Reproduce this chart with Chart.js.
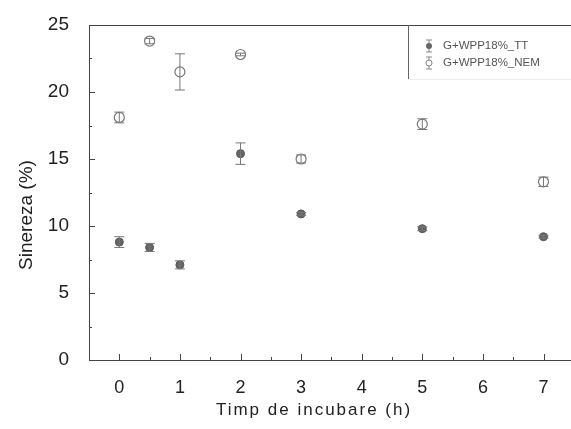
<!DOCTYPE html>
<html>
<head>
<meta charset="utf-8">
<script src="https://cdn.jsdelivr.net/npm/chart.js@4.4.1/dist/chart.umd.min.js"></script>
<style>
	html, body { margin: 0; padding: 0; background: #fff; overflow: hidden; }
	#wrap { width: 580px; height: 429px; }
</style>
</head>
<body>
<div id="wrap"><canvas id="c" width="580" height="429"></canvas></div>
<script>
// time points (h)
const hours = [0, 0.5, 1, 2, 3, 5, 7]
// G+WPP18%_TT
const ttValues = [8.8, 8.4, 7.1, 15.4, 10.9, 9.8, 9.2]
const ttErrors = [0.4, 0.3, 0.3, 0.8, 0.1, 0.15, 0.1]
// G+WPP18%_NEM
const nemValues = [18.1, 23.8, 21.5, 22.8, 15.0, 17.6, 13.3]
const nemErrors = [0.4, 0.2, 1.35, 0.1, 0.3, 0.4, 0.35]
const xTicks = [0, 1, 2, 3, 4, 5, 6, 7]
const yTicks = [0, 5, 10, 15, 20, 25]

const axisColor = '#444'
const font = 'Liberation Sans, Arial, sans-serif'

const errorBars = {
	id: 'errorBars',
	afterDatasetsDraw(chart) {
		const ctx = chart.ctx
		const x = chart.scales.x, y = chart.scales.y
		chart.data.datasets.forEach(ds => {
			ctx.save()
			ctx.strokeStyle = '#777'
			ctx.lineWidth = 1
			ds.data.forEach((p, i) => {
				let e = ds.errors[i]
				let px = x.getPixelForValue(p.x)
				let top = y.getPixelForValue(p.y + e)
				let bot = y.getPixelForValue(p.y - e)
				ctx.beginPath()
				ctx.moveTo(px, top); ctx.lineTo(px, bot)
				ctx.moveTo(px - 5, top); ctx.lineTo(px + 5, top)
				ctx.moveTo(px - 5, bot); ctx.lineTo(px + 5, bot)
				ctx.stroke()
			})
			ctx.restore()
		})
	}
}

const frame = {
	id: 'frame',
	afterDraw(chart) {
		const ctx = chart.ctx
		const a = chart.chartArea
		const x = chart.scales.x, y = chart.scales.y
		ctx.save()
		ctx.strokeStyle = axisColor
		ctx.lineWidth = 1
		// top border up to the legend box
		ctx.beginPath()
		ctx.moveTo(a.left, a.top + 0.5); ctx.lineTo(a.right, a.top + 0.5)
		ctx.stroke()
		// tick marks, pointing inwards
		ctx.beginPath()
		for (let v = 0; v <= 7.01; v += 0.5) {
			let px = Math.round(x.getPixelForValue(v)) + 0.5
			let len = v % 1 === 0 ? 6 : 3
			ctx.moveTo(px, a.bottom); ctx.lineTo(px, a.bottom - len)
		}
		for (let v = 2.5; v <= 25; v += 2.5) {
			let py = Math.round(y.getPixelForValue(v)) + 0.5
			let len = v % 5 === 0 ? 6 : 3
			ctx.moveTo(a.left, py); ctx.lineTo(a.left + len, py)
		}
		ctx.stroke()

		// axis titles
		ctx.fillStyle = '#222'
		ctx.textAlign = 'center'
		ctx.textBaseline = 'middle'
		ctx.font = '17px ' + font
		ctx.letterSpacing = '2px'
		ctx.fillText('Timp de incubare (h)', 314, 410)
		ctx.letterSpacing = '0px'
		ctx.save()
		ctx.translate(27, 215)
		ctx.rotate(-Math.PI / 2)
		ctx.font = '19px ' + font
		ctx.fillText('Sinereza (%)', 0, 0)
		ctx.restore()

		// legend box
		let lx = 408, ly = a.top, lw = 172, lh = 54
		ctx.fillStyle = '#fff'
		ctx.fillRect(lx, ly + 1, lw, lh)
		ctx.strokeStyle = '#666'
		ctx.beginPath()
		ctx.moveTo(lx + 0.5, ly); ctx.lineTo(lx + 0.5, ly + lh)
		ctx.stroke()
		ctx.strokeStyle = '#eee'
		ctx.beginPath()
		ctx.moveTo(lx, ly + lh + 0.5); ctx.lineTo(lx + lw, ly + lh + 0.5)
		ctx.stroke()

		const items = [
			{label: 'G+WPP18%_TT', filled: true, y: 46},
			{label: 'G+WPP18%_NEM', filled: false, y: 63}
		]
		ctx.font = '11.5px ' + font
		ctx.textAlign = 'left'
		items.forEach(it => {
			let sx = 429
			ctx.strokeStyle = '#888'
			ctx.beginPath()
			ctx.moveTo(sx, it.y - 6); ctx.lineTo(sx, it.y + 6)
			ctx.moveTo(sx - 3, it.y - 6); ctx.lineTo(sx + 3, it.y - 6)
			ctx.moveTo(sx - 3, it.y + 6); ctx.lineTo(sx + 3, it.y + 6)
			ctx.stroke()
			ctx.beginPath()
			ctx.arc(sx, it.y, 3, 0, Math.PI * 2)
			if (it.filled) {
				ctx.fillStyle = '#666'
				ctx.fill()
			} else {
				ctx.fillStyle = '#fff'
				ctx.fill()
				ctx.strokeStyle = '#888'
				ctx.stroke()
			}
			ctx.fillStyle = '#555'
			ctx.fillText(it.label, 443, it.y)
		})
		ctx.restore()
	}
}

new Chart(document.getElementById('c'), {
	type: 'scatter',
	data: {
		datasets: [
			{
				label: 'G+WPP18%_TT',
				data: hours.map((h, i) => ({x: h, y: ttValues[i]})),
				errors: ttErrors,
				pointRadius: 4,
				pointBackgroundColor: '#666',
				pointBorderColor: '#555',
				pointBorderWidth: 1
			},
			{
				label: 'G+WPP18%_NEM',
				data: hours.map((h, i) => ({x: h, y: nemValues[i]})),
				errors: nemErrors,
				pointRadius: 5,
				pointBackgroundColor: 'rgba(255,255,255,0)',
				pointBorderColor: '#777',
				pointBorderWidth: 1.2
			}
		]
	},
	options: {
		responsive: false,
		animation: false,
		layout: {padding: {left: 0, right: 4, top: 25, bottom: 0}},
		plugins: {
			legend: {display: false},
			tooltip: {enabled: false}
		},
		scales: {
			x: {
				type: 'linear',
				min: -0.5,
				max: 7.5,
				afterBuildTicks: s => { s.ticks = xTicks.map(v => ({value: v})) },
				afterFit: s => { s.height = 69 },
				grid: {display: false},
				border: {display: true, color: axisColor, width: 1},
				ticks: {
					color: '#222',
					padding: 9,
					font: {family: font, size: 18}
				}
			},
			y: {
				min: 0,
				max: 25,
				afterBuildTicks: s => { s.ticks = yTicks.map(v => ({value: v})) },
				afterFit: s => { s.width = 89 },
				grid: {display: false},
				border: {display: true, color: axisColor, width: 1},
				ticks: {
					color: '#222',
					padding: 12,
					font: {family: font, size: 19}
				}
			}
		}
	},
	plugins: [errorBars, frame]
})
</script>
</body>
</html>
